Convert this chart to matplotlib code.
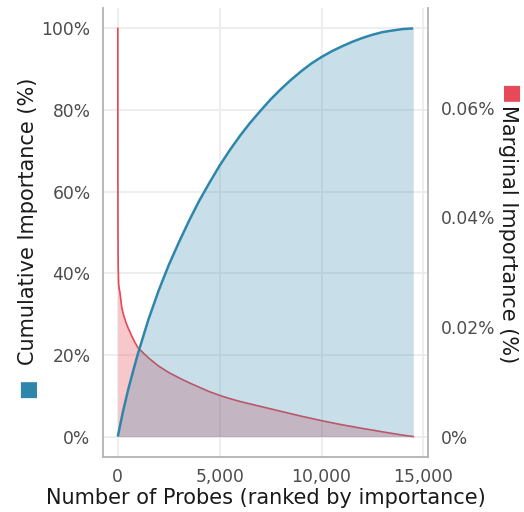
import matplotlib
matplotlib.use("Agg")
import matplotlib.pyplot as plt
from matplotlib.ticker import FuncFormatter

BLUE = "#2E86AB"
RED = "#E84855"
GRID = "#EBEBEB"
SPINE = "#B3B3B3"
TICK_TXT = "#4D4D4D"

# cumulative share of total importance (%) vs number of top-ranked probes
cum_x = [0, 250, 500, 750, 1000, 1500, 2000, 2500, 3000, 3500, 4000, 4500,
         5000, 5500, 6000, 6500, 7000, 7500, 8000, 8500, 9000, 9500, 10000,
         10500, 11000, 11500, 12000, 12500, 13000, 13500, 14000, 14500]
cum_pct = [0, 6.0, 11.3, 16.0, 20.5, 28.6, 35.7, 42.0, 47.6, 52.9, 57.8, 62.2,
           66.4, 70.2, 73.7, 76.9, 79.8, 82.6, 85.1, 87.4, 89.5, 91.4, 93.0,
           94.4, 95.6, 96.7, 97.65, 98.45, 99.1, 99.5, 99.85, 100.0]

# marginal importance of each probe (% of total)
marg_x = [1, 3, 6, 10, 20, 40, 70, 100, 200, 300, 400, 500, 700, 850, 1000,
          1500, 2000, 2500, 3000, 3500, 4000, 4500, 5000, 5500, 6000, 6500,
          7000, 7500, 8000, 8500, 9000, 9500, 10000, 10500, 11000, 11500,
          12000, 12500, 13000, 13500, 14000, 14500]
marg_pct = [0.0745, 0.0559, 0.0447, 0.03725, 0.0313, 0.0279, 0.0270, 0.02645,
            0.02347, 0.02198, 0.02086, 0.01989, 0.01825, 0.01714, 0.01617,
            0.01438, 0.01289, 0.01170, 0.01073, 0.00983, 0.00901, 0.00820,
            0.00752, 0.00693, 0.00641, 0.00596, 0.00551, 0.00507, 0.00462,
            0.00417, 0.00373, 0.00332, 0.00291, 0.00253, 0.00216, 0.00183,
            0.00149, 0.00119, 0.00086, 0.00056, 0.00026, 0.0]

x_ticks = [0, 5000, 10000, 15000]
cum_ticks = [0, 20, 40, 60, 80, 100]
marg_ticks = [0, 0.02, 0.04, 0.06]

plt.rcParams["font.family"] = ["DejaVu Sans"]

fig = plt.figure(figsize=(5.24, 5.12), dpi=100)
ax = fig.add_axes([103 / 524, 1 - 457 / 512, 325 / 524, 449 / 512])
ax2 = ax.twinx()

n = cum_x[-1]
pad = 0.05 * n
ax.set_xlim(-pad, n + pad)
ax.set_ylim(-5, 105)
scale = max(marg_pct) / 100
ax2.set_ylim(-5 * scale, 105 * scale)

# marginal series lives on the right-hand scale but is drawn beneath the cumulative one
ax.fill_between(marg_x, 0, marg_pct, color=RED, alpha=0.3, lw=0,
                transform=ax2.transData, zorder=2)
ax.plot(marg_x, marg_pct, color=RED, lw=1.2, transform=ax2.transData, zorder=3)
ax.fill_between(cum_x, 0, cum_pct, color=BLUE, alpha=0.26, lw=0, zorder=4)
ax.plot(cum_x, cum_pct, color=BLUE, lw=1.8, zorder=5, solid_capstyle="butt")

ax.set_xticks(x_ticks)
ax.set_yticks(cum_ticks)
ax2.set_yticks(marg_ticks)
ax.xaxis.set_major_formatter(FuncFormatter(lambda v, p: f"{v:,.0f}"))
ax.yaxis.set_major_formatter(FuncFormatter(lambda v, p: f"{v:.0f}%"))
ax2.yaxis.set_major_formatter(FuncFormatter(lambda v, p: f"{v:g}%"))

ax.grid(True, color=GRID, lw=1.2, zorder=0)
ax.set_axisbelow(True)

for a in (ax, ax2):
    for side in ("top", "left", "right", "bottom"):
        a.spines[side].set_visible(False)
    a.tick_params(length=0, labelsize=12.3, labelcolor=TICK_TXT)
ax.spines["left"].set_visible(True)
ax.spines["bottom"].set_visible(True)
ax2.spines["right"].set_visible(True)
for sp in (ax.spines["left"], ax.spines["bottom"], ax2.spines["right"]):
    sp.set_color(SPINE)
    sp.set_linewidth(1.3)
ax.tick_params(axis="y", pad=9)
ax.tick_params(axis="x", pad=8)
ax2.tick_params(axis="y", pad=9)

ax.set_xlabel("Number of Probes (ranked by importance)", fontsize=15,
              color="#1A1A1A", labelpad=1)

# axis titles with coloured series keys
fig.text(28 / 524, 1 - 221 / 512, "Cumulative Importance (%)", rotation=90,
         ha="center", va="center", fontsize=15, color="#1A1A1A")
fig.text(27 / 524, 1 - 388 / 512, "\u25A0", rotation=90, ha="center",
         va="center", fontsize=15, color=BLUE)
fig.text(508 / 524, 1 - 234 / 512, "Marginal Importance (%)", rotation=-90,
         ha="center", va="center", fontsize=15, color="#1A1A1A")
fig.text(510 / 524, 1 - 94 / 512, "\u25A0", rotation=-90, ha="center",
         va="center", fontsize=15, color=RED)

fig.savefig("out.png", dpi=100, facecolor="white")
